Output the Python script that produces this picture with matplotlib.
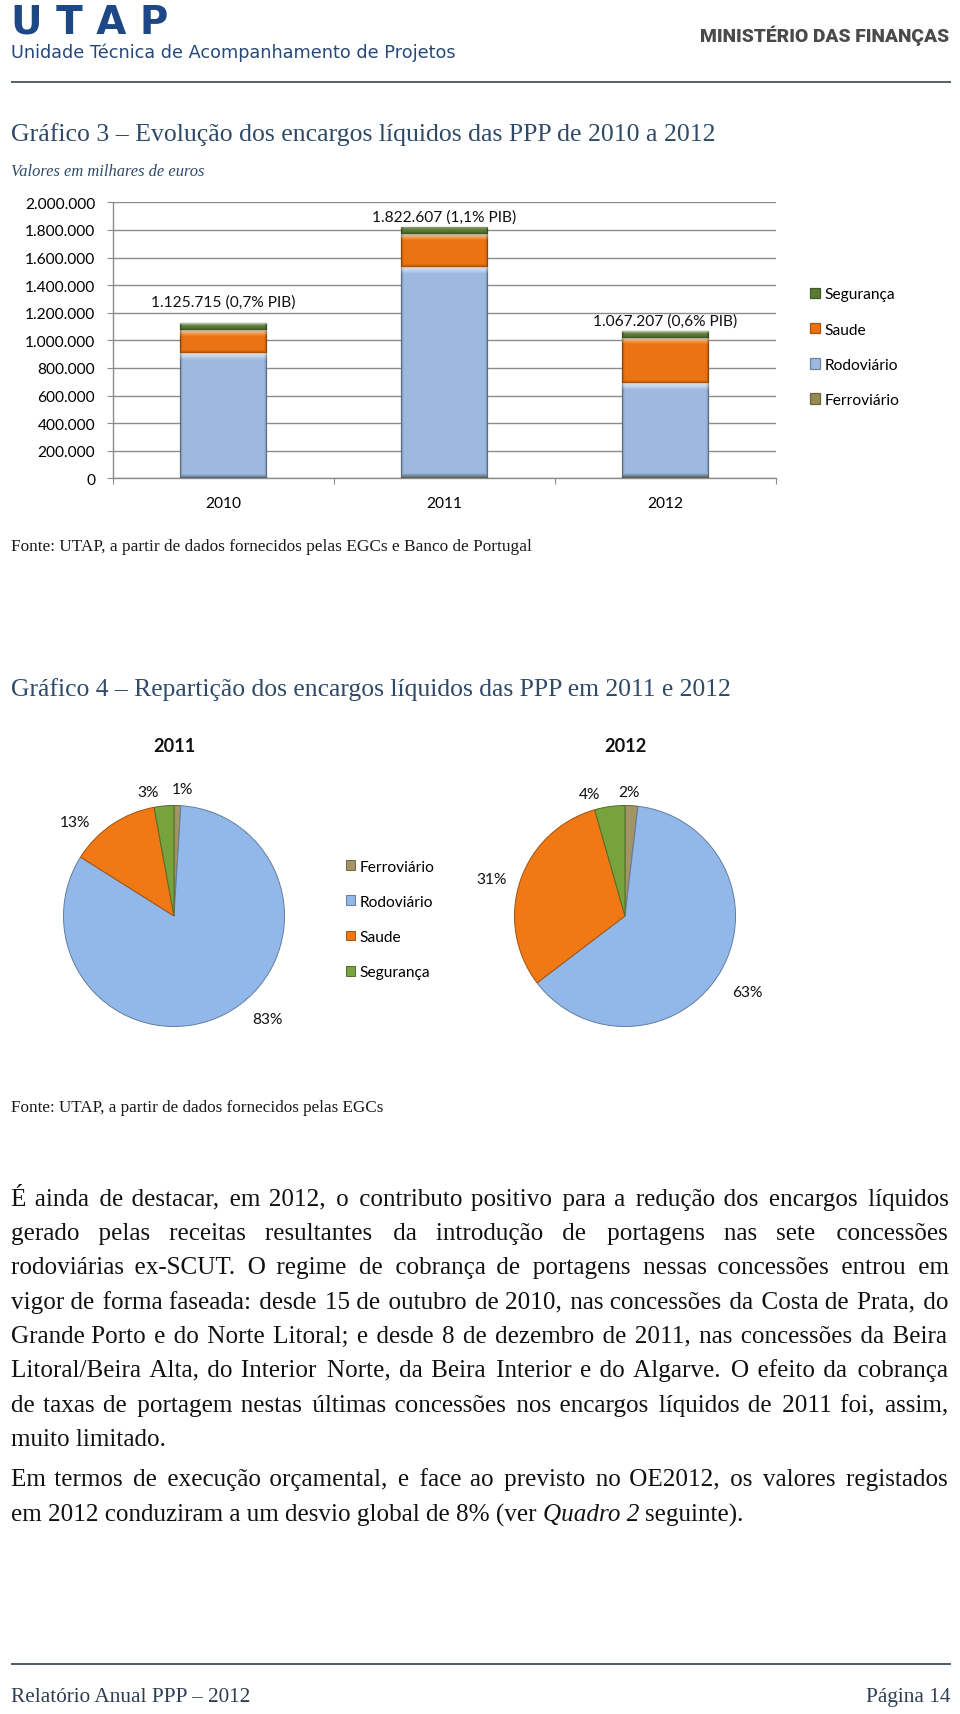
import numpy as np
import matplotlib
matplotlib.use('Agg')
import matplotlib.pyplot as plt
import matplotlib.colors as mcolors

# ---------------- data ----------------
years = ['2010', '2011', '2012']
sectors = ['Ferroviário', 'Rodoviário', 'Saude', 'Segurança']
ferroviario = [10000, 18000, 20000]
rodoviario = [895000, 1512000, 670000]
saude = [170000, 240000, 330000]
seguranca = [50715, 52607, 47207]
pib_share = [0.7, 1.1, 0.6]
y_ticks = [0, 200000, 400000, 600000, 800000, 1000000,
           1200000, 1400000, 1600000, 1800000, 2000000]
pie_years = ['2011', '2012']

# ---------------- page texts ----------------
header_big = 'U T A P'
header_sub = 'Unidade Técnica de Acompanhamento de Projetos'
header_right = 'MINISTÉRIO DAS FINANÇAS'
title3 = 'Gráfico 3 – Evolução dos encargos líquidos das PPP de 2010 a 2012'
subtitle3 = 'Valores em milhares de euros'
source3 = 'Fonte: UTAP, a partir de dados fornecidos pelas EGCs e Banco de Portugal'
title4 = 'Gráfico 4 – Repartição dos encargos líquidos das PPP em 2011 e 2012'
source4 = 'Fonte: UTAP, a partir de dados fornecidos pelas EGCs'
para1 = [
    'É ainda de destacar, em 2012, o contributo positivo para a redução dos encargos líquidos',
    'gerado pelas receitas resultantes da introdução de portagens nas sete concessões',
    'rodoviárias ex-SCUT. O regime de cobrança de portagens nessas concessões entrou em',
    'vigor de forma faseada: desde 15 de outubro de 2010, nas concessões da Costa de Prata, do',
    'Grande Porto e do Norte Litoral; e desde 8 de dezembro de 2011, nas concessões da Beira',
    'Litoral/Beira Alta, do Interior Norte, da Beira Interior e do Algarve. O efeito da cobrança',
    'de taxas de portagem nestas últimas concessões nos encargos líquidos de 2011 foi, assim,',
    'muito limitado.',
]
para2 = [
    'Em termos de execução orçamental, e face ao previsto no OE2012, os valores registados',
    'em 2012 conduziram a um desvio global de 8% (ver |Quadro 2| seguinte).',
]
footer_left = 'Relatório Anual PPP – 2012'
footer_right = 'Página 14'

# ---------------- styles ----------------
W, H, DPI = 960, 1715, 100
SERIF = ['Liberation Serif', 'DejaVu Serif']
CHART = 'Lato'
HEAD = 'DejaVu Sans'
SLATE = '#2E4A68'
bar_colors = ['#948A54', '#9DB9DF', '#EC7311', '#5B7B33']
pie_colors = ['#A39466', '#92B8EA', '#F07815', '#78A23C']
grid_col = '#8C8C8C'


def darker(c, f=0.72):
    r, g, b = mcolors.to_rgb(c)
    return (r * f, g * f, b * f)


fig = plt.figure(figsize=(W / DPI, H / DPI), dpi=DPI)
fig.patch.set_facecolor('white')
page = fig.add_axes([0, 0, 1, 1], zorder=0)
page.set_xlim(0, W)
page.set_ylim(H, 0)
page.axis('off')
renderer = fig.canvas.get_renderer()


def twidth(s, size, **kw):
    t = page.text(0, 100, s, fontsize=size, **kw)
    w = t.get_window_extent(renderer).width
    t.remove()
    return w


def fit(s, target, **kw):
    return 20.0 * target / twidth(s, 20, **kw)


def put(x, y, s, size, ha='left', **kw):
    return page.text(x, y, s, fontsize=size, ha=ha, va='baseline', **kw)


# ---------------- header ----------------
fs = fit(header_big, 157, family=HEAD, weight='bold')
put(11, 34, header_big, fs, family=HEAD, weight='bold', color='#1D4785')
fs = fit(header_sub, 442, family=HEAD)
put(11, 58, header_sub, fs, family=HEAD, color='#27497A')
fs = fit(header_right, 250, family='Roboto', weight='heavy')
put(949, 42, header_right, fs, ha='right', family='Roboto', weight='heavy',
    color='#4A4A4A')
page.hlines(83, 11, 951, color='#56616C', lw=1.4)

# ---------------- chart 3 titles ----------------
fs = fit(title3, 702, family=SERIF)
put(11, 141, title3, fs, family=SERIF, color=SLATE)
fs = fit(subtitle3, 193, family=SERIF, style='italic')
put(11, 176, subtitle3, fs, family=SERIF, style='italic', color=SLATE)

# ---------------- bar chart ----------------
fs_chart = fit('2.000.000', 70, family=CHART)
ax = fig.add_axes([112.7 / W, 1 - 479.3 / H, 663 / W, 276 / H], zorder=2)
x = np.arange(len(years))
series = [ferroviario, rodoviario, saude, seguranca]
bottom = np.zeros(len(years))
containers = []
for name, vals, col in zip(sectors, series, bar_colors):
    c = ax.bar(x, vals, width=0.39, bottom=bottom, color=col,
               edgecolor=darker(col), linewidth=0.9, label=name, zorder=3)
    containers.append(c)
    bottom = bottom + np.array(vals)
totals = bottom
label_offsets_px = [21, 10, 10]
for i, tot in enumerate(totals):
    tot_s = f'{int(round(tot)):,}'.replace(',', '.')
    pib_s = f'{pib_share[i]:.1f}'.replace('.', ',')
    ax.annotate(f'{tot_s} ({pib_s}% PIB)', xy=(x[i], tot),
                xytext=(0, label_offsets_px[i] * 72 / DPI), textcoords='offset points',
                ha='center', va='center', fontsize=fs_chart, family=CHART, color='#111111')
ax.set_yticks(y_ticks)
ax.set_yticklabels([f'{v:,}'.replace(',', '.') for v in y_ticks],
                   fontsize=fs_chart, family=CHART)
ax.set_xticks(np.arange(len(years) + 1) - 0.5)
ax.set_xticklabels([])
ax.set_xticks(x, minor=True)
ax.set_xticklabels(years, minor=True, fontsize=fs_chart, family=CHART)
ax.tick_params(axis='x', which='major', direction='out', length=4, color=grid_col)
ax.tick_params(axis='x', which='minor', length=0, pad=12.5)
ax.tick_params(axis='y', direction='out', length=4.3, color=grid_col, pad=8.4)
ax.yaxis.grid(True, color=grid_col, lw=1.0)
ax.set_axisbelow(True)
for s in ['top', 'right']:
    ax.spines[s].set_visible(False)
for s in ['left', 'bottom']:
    ax.spines[s].set_color(grid_col)
    ax.spines[s].set_linewidth(1.0)
ax.set_facecolor('none')
ax.set_xlim(-0.5, len(years) - 0.5)
ax.set_ylim(0, 2000000)


# bevel shading (Excel-like) over every bar segment
def bevel(axis, patch, top=7.0, edge=3.0):
    bb = patch.get_window_extent(renderer)
    wpx = max(int(round(bb.width)), 2)
    hpx = max(int(round(bb.height)), 2)
    rows = np.arange(hpx)[:, None] + 0.5
    cols = np.arange(wpx)[None, :] + 0.5
    t = max(min(top, hpx * 0.4), 1.0)
    a_white = np.clip(1 - rows / t, 0, 1) * 0.72 * np.ones((1, wpx))
    dl = np.clip(1 - cols / edge, 0, 1)
    dr = np.clip(1 - (wpx - cols) / edge, 0, 1)
    db = np.clip(1 - (hpx - rows) / edge, 0, 1)
    a_dark = np.maximum(np.maximum(dl, dr) * 0.22 * np.ones((hpx, 1)),
                        db * 0.3 * np.ones((1, wpx)))
    x0, y0 = patch.get_x(), patch.get_y()
    ext = (x0, x0 + patch.get_width(), y0, y0 + patch.get_height())
    for rgb, a in [((1, 1, 1), a_white), ((0, 0, 0), a_dark)]:
        img = np.zeros((hpx, wpx, 4))
        img[..., :3] = rgb
        img[..., 3] = a
        im = axis.imshow(img, extent=ext, origin='upper', aspect='auto',
                         interpolation='bilinear', zorder=3.5)
        im.set_clip_path(patch)


for c in containers:
    for p in c.patches:
        bevel(ax, p)
ax.set_xlim(-0.5, len(years) - 0.5)
ax.set_ylim(0, 2000000)
ax.set_aspect('auto')

h = containers[::-1]
fig.legend(h, [c.get_label() for c in h], loc='upper left',
           bbox_to_anchor=(810 / W, 1 - 288.5 / H), frameon=False,
           prop={'family': CHART, 'size': fs_chart},
           handlelength=0.65, handleheight=0.65, handletextpad=0.3,
           labelspacing=1.37, borderpad=0, borderaxespad=0)

fs = fit(source3, 521, family=SERIF)
put(11, 551, source3, fs, family=SERIF, color='#1A1A1A')

# ---------------- chart 4 ----------------
fs = fit(title4, 722, family=SERIF)
put(11, 696, title4, fs, family=SERIF, color=SLATE)

fs_pie_title = fit('2011', 42, family=CHART, weight='bold')
pie_centers = [(174, 917), (625, 917)]
pie_r = 110.5
label_pos = [
    [(86, 1.15), (-47.6, 1.26), (136.5, 1.235), (102, 1.15)],
    [(88, 1.12), (-32, 1.30), (164.5, 1.25), (106, 1.15)],
]
yr_index = {y: i for i, y in enumerate(years)}
wedges_first = None
for k, yr in enumerate(pie_years):
    j = yr_index[yr]
    vals = np.array([s[j] for s in series], dtype=float)
    cx, cy = pie_centers[k]
    pax = fig.add_axes([(cx - pie_r) / W, 1 - (cy + pie_r) / H,
                        2 * pie_r / W, 2 * pie_r / H], zorder=2)
    wedges, _ = pax.pie(vals, colors=pie_colors, startangle=90, counterclock=False,
                        radius=1,
                        wedgeprops=dict(edgecolor='#6E6E6E', linewidth=0.7))
    for w, col in zip(wedges, pie_colors):
        w.set_edgecolor(darker(col, 0.68))
    if wedges_first is None:
        wedges_first = wedges
    pax.set_xlim(-1, 1)
    pax.set_ylim(-1, 1)
    pax.set_aspect('equal')
    pax.axis('off')
    pct = vals / vals.sum() * 100
    for p, (ang, rf) in zip(pct, label_pos[k]):
        a = np.deg2rad(ang)
        pax.text(rf * np.cos(a), rf * np.sin(a), f'{p:.0f}%', ha='center', va='center',
                 fontsize=fs_chart, family=CHART, color='#111111', clip_on=False)
    page.text(cx, 747, yr, ha='center', va='center', fontsize=fs_pie_title,
              family=CHART, weight='bold', color='#111111')

fig.legend(wedges_first, sectors, loc='upper left',
           bbox_to_anchor=(346 / W, 1 - 860.5 / H), frameon=False,
           prop={'family': CHART, 'size': fs_chart},
           handlelength=0.6, handleheight=0.6, handletextpad=0.3,
           labelspacing=1.37, borderpad=0, borderaxespad=0)

fs = fit(source4, 374, family=SERIF)
put(11, 1112, source4, fs, family=SERIF, color='#1A1A1A')

# ---------------- paragraphs ----------------
fs_par = fit('muito limitado.', 155, family=SERIF)
base_aa = twidth('aa', fs_par, family=SERIF)
space_w = twidth('a a', fs_par, family=SERIF) - base_aa
HAIR = '\u200a'
hair_w = (twidth('a' + HAIR * 40 + 'a', fs_par, family=SERIF) - base_aa) / 40.0
X0, X1 = 11, 948
TXT = '#111111'


def build_line(words, n):
    ngaps = len(words) - 1
    out = words[0]
    for i in range(ngaps):
        k = (n * (i + 1)) // ngaps - (n * i) // ngaps
        out += ' ' + HAIR * k + words[i + 1]
    return out


def justified_string(words):
    target = X1 - X0
    if hair_w < 0.2:
        return ' '.join(words)
    s = ' '.join(words)
    n = max(int(round((target - twidth(s, fs_par, family=SERIF)) / hair_w)), 0)
    for _ in range(5):
        s = build_line(words, n)
        dn = int(round((target - twidth(s, fs_par, family=SERIF)) / hair_w))
        if dn == 0:
            break
        n = max(n + dn, 0)
    return s


def draw_line(line, y, justify):
    if '|' in line:
        parts = line.split('|')
        xx = X0
        for k, part in enumerate(parts):
            style = 'italic' if k % 2 == 1 else 'normal'
            core = part.strip()
            if part.startswith(' '):
                xx += space_w
            put(xx, y, core, fs_par, family=SERIF, style=style, color=TXT)
            xx += twidth(core, fs_par, family=SERIF, style=style)
            if part.endswith(' '):
                xx += space_w
        return
    words = line.split(' ')
    s = justified_string(words) if (justify and len(words) > 1) else line
    put(X0, y, s, fs_par, family=SERIF, color=TXT)


p1_base = [1206, 1240, 1274.3, 1309, 1343, 1377, 1411.7, 1445.7]
for i, line in enumerate(para1):
    draw_line(line, p1_base[i], justify=(i < len(para1) - 1))
p2_base = [1486.5, 1521.5]
for i, line in enumerate(para2):
    draw_line(line, p2_base[i], justify=(i < len(para2) - 1))

# ---------------- footer ----------------
page.hlines(1665, 11, 951, color='#4C5A68', lw=1.4)
fs = fit(footer_left, 240, family=SERIF)
put(11, 1702, footer_left, fs, family=SERIF, color='#2E3E50')
put(950, 1702, footer_right, fs, ha='right', family=SERIF, color='#2E3E50')

fig.savefig('out.png', dpi=DPI, facecolor='white')
